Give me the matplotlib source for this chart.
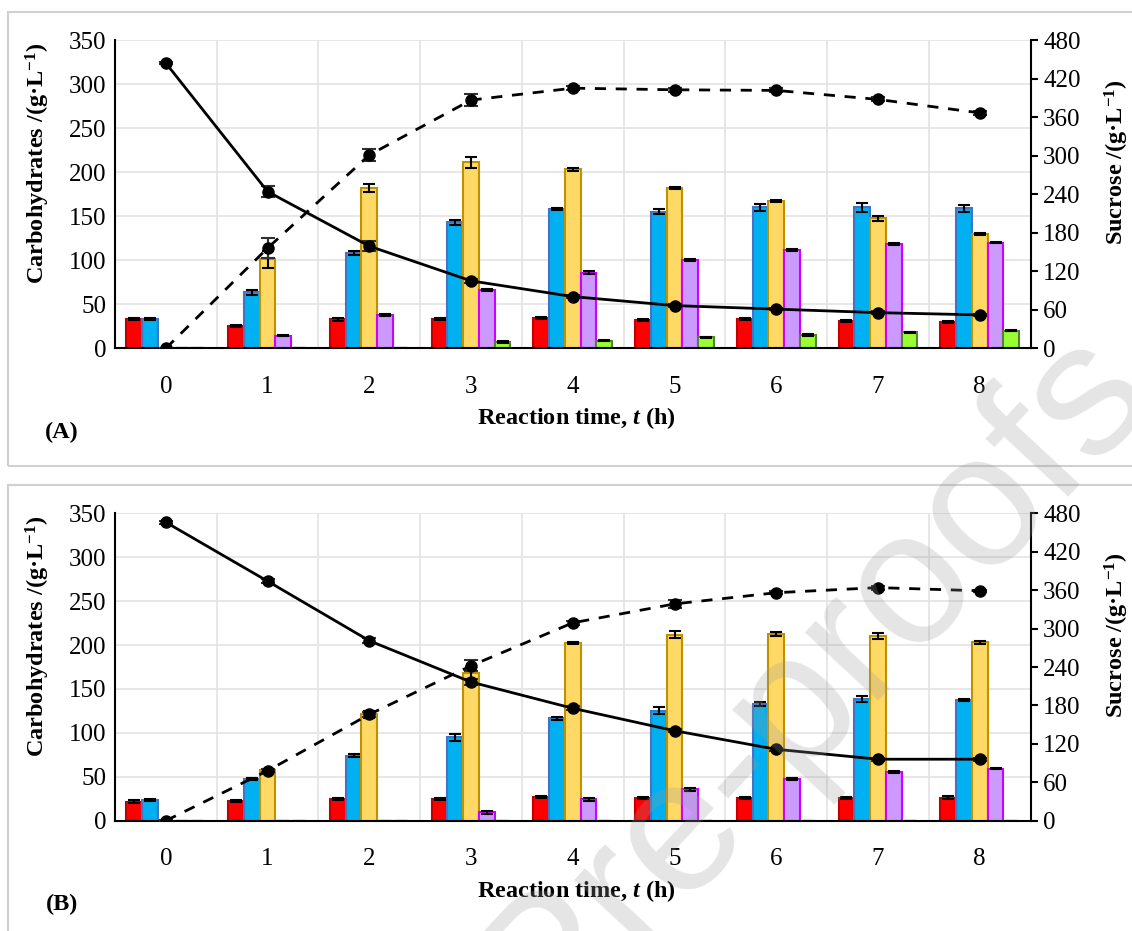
import matplotlib
matplotlib.use("Agg")
import matplotlib.pyplot as plt
from matplotlib.patches import Rectangle
import numpy as np

plt.rcParams['font.family'] = ['Liberation Serif', 'DejaVu Serif']
plt.rcParams['mathtext.fontset'] = 'custom'
plt.rcParams['mathtext.rm'] = 'Liberation Serif:bold'
plt.rcParams['mathtext.it'] = 'Liberation Serif:bold:italic'
plt.rcParams['mathtext.bf'] = 'Liberation Serif:bold'

times = [0, 1, 2, 3, 4, 5, 6, 7, 8]

# panel A (g/L, left axis)
a_red = [33, 25.5, 33, 33, 34, 32, 33, 31, 29.5]
a_blue = [33, 63.5, 108, 143, 158, 155, 160, 160, 159]
a_yellow = [0, 101, 182, 211, 203, 182, 167.5, 147.5, 130]
a_purple = [0, 14.5, 38, 66, 86, 100, 111.5, 118, 120]
a_green = [0, 0, 0, 7, 8.7, 12.5, 15, 18, 20]
a_red_err = [1, 1, 1.5, 1, 1, 1, 1, 1, 1]
a_blue_err = [1, 3, 2, 2.5, 1.5, 3, 4, 5, 4]
a_yellow_err = [0, 10, 5, 6, 1.5, 1.5, 1, 3, 1]
a_purple_err = [0, 1, 1.5, 1, 1.5, 1, 1.5, 1, 1]
a_green_err = [0, 0, 0, 0.8, 0.8, 0.8, 0.8, 0.8, 0.8]
# panel A lines (right axis)
a_sucrose = [444, 244, 159, 105, 80.5, 66.5, 61, 55.5, 52]
a_sucrose_err = [2, 9, 8, 3, 2, 2, 2, 2, 2]
a_dashed = [0, 156, 301, 386.5, 405, 402.5, 401.5, 387.5, 366.5]
a_dashed_err = [1, 15, 10, 9, 3, 3, 3, 3, 3]

# panel B
b_red = [21.5, 22.5, 24.3, 24.3, 26.6, 25.5, 26.2, 25.5, 26.2]
b_blue = [23.5, 47.5, 74, 95, 116.5, 125.3, 133, 138.6, 137.5]
b_yellow = [0, 57.7, 121, 168, 202, 211.5, 212.6, 210.3, 203]
b_purple = [0, 0, 0, 9.5, 24.3, 35.7, 47.5, 55.8, 59.2]
b_green = [0, 0, 0, 0, 0, 0, 0, 0, 0]
b_red_err = [1.5, 1, 1, 1, 1, 1, 1, 1, 1.5]
b_blue_err = [1, 1, 2, 4, 1.5, 4, 2, 3, 1.5]
b_yellow_err = [0, 1, 4, 7, 1, 4, 2, 3, 2]
b_purple_err = [0, 0, 0, 1.5, 2, 2, 1, 1, 0.5]
b_green_err = [0, 0, 0, 0, 0, 0, 0, 0, 0]
b_sucrose = [466, 374, 281, 216.5, 175.5, 140.5, 111.5, 96, 96]
b_sucrose_err = [2, 3, 4, 4, 3, 2, 2, 2, 2]
b_dashed = [0, 78, 166, 242, 309, 338.5, 356, 364, 359]
b_dashed_err = [1, 2, 4, 9, 3, 6, 2, 3, 2]

faces = ['#FF0000', '#00B0F0', '#FFD966', '#CC99FF', '#99FF33']
edges = ['#C00000', '#4472C4', '#BF9000', '#CC00FF', '#548235']

W, H = 1132, 931
fig = plt.figure(figsize=(W / 100, H / 100), dpi=100)

# panel frames
for top, bot in [(12, 466), (485, 940)]:
    fig.patches.append(Rectangle((8 / W, 1 - bot / H), 1.2, (bot - top) / H,
                                 transform=fig.transFigure, fill=False,
                                 edgecolor='#D0D0D0', lw=1.5, zorder=0))

panels = [
    ([a_red, a_blue, a_yellow, a_purple, a_green],
     [a_red_err, a_blue_err, a_yellow_err, a_purple_err, a_green_err],
     a_sucrose, a_sucrose_err, a_dashed, a_dashed_err, 40, 348.3, '(A)'),
    ([b_red, b_blue, b_yellow, b_purple, b_green],
     [b_red_err, b_blue_err, b_yellow_err, b_purple_err, b_green_err],
     b_sucrose, b_sucrose_err, b_dashed, b_dashed_err, 513.3, 820.7, '(B)'),
]

x = np.array(times)
bw = 0.155
for bars, errs, suc, suc_err, dash, dash_err, ytop, ybot, tag in panels:
    ax = fig.add_axes([115 / W, 1 - ybot / H, (1030.6 - 115) / W, (ybot - ytop) / H])
    for i in range(5):
        ax.bar(x + (i - 2) * bw, bars[i], bw, color=faces[i], edgecolor=edges[i],
               linewidth=1.5, zorder=2)
        ax.errorbar(x + (i - 2) * bw, bars[i], yerr=errs[i], fmt='none',
                    ecolor='black', elinewidth=1.5, capsize=4, capthick=1.5, zorder=3)
    ax.set_xlim(-0.5, 8.5)
    ax.set_ylim(0, 350)
    ax.set_yticks(range(0, 351, 50))
    ax.set_xticks(x)
    ax.set_xticklabels([str(t) for t in times])
    ax.set_axisbelow(True)
    ax.yaxis.grid(True, color='#E3E3E3', lw=1.2)
    for b in np.arange(0.5, 8.5, 1):
        ax.axvline(b, color='#E3E3E3', lw=1.2, zorder=0)
    ax.tick_params(axis='both', length=0, labelsize=18)
    ax.tick_params(axis='x', pad=20)
    ax.tick_params(axis='y', pad=6)
    for s in ['top', 'right']:
        ax.spines[s].set_visible(False)
    ax.spines['left'].set_linewidth(1.5)
    ax.spines['bottom'].set_linewidth(1.5)

    ax2 = ax.twinx()
    ax2.set_ylim(0, 480)
    ax2.set_yticks(range(0, 481, 60))
    ax2.errorbar(x, suc, yerr=suc_err, color='black', lw=2, marker='o', ms=8,
                 ecolor='#303030', elinewidth=1.5, capsize=5, capthick=1.5, zorder=4)
    ax2.errorbar(x, dash, yerr=dash_err, color='black', lw=2, ls=(0, (4, 3.5)),
                 marker='o', ms=8, ecolor='#303030', elinewidth=1.5, capsize=5,
                 capthick=1.5, zorder=4)
    ax2.tick_params(axis='y', direction='out', length=5, width=1.5, labelsize=18, pad=4)
    for s in ['top', 'left', 'bottom']:
        ax2.spines[s].set_visible(False)
    ax2.spines['right'].set_linewidth(1.5)

    fig.text(38 / W, 1 - (ytop - 7 + 130) / H, r'Carbohydrates /(g·L$^{-1}$)',
             rotation=90, ha='center', va='center', fontsize=17.5, fontweight='bold')
    fig.text(1117 / W, 1 - (ytop - 7 + 129) / H, r'Sucrose /(g·L$^{-1}$)',
             rotation=90, ha='center', va='center', fontsize=17.5, fontweight='bold')
    fig.text(576 / W, 1 - (ybot + 70) / H, r'Reaction time, $t$ (h)',
             ha='center', va='center', fontsize=17.5, fontweight='bold')
    fig.text(62 / W, 1 - (ybot + 84) / H, tag, ha='center', va='center',
             fontsize=17.5, fontweight='bold')

# "Pre-proofs" watermark
fig.text(815 / W, 1 - 680 / H, 'Pre-proofs', rotation=47, ha='center', va='center',
         fontsize=137, family='Liberation Sans', color='#999999', alpha=0.26,
         zorder=10)

fig.savefig('out.png', dpi=100)
